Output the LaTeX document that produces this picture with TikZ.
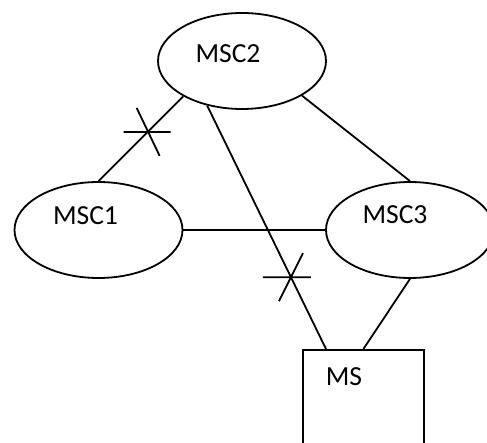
\documentclass[tikz,border=0pt]{standalone}
\usepackage{fontspec}
\setmainfont{Carlito}
\usetikzlibrary{shapes.geometric,positioning}
\begin{document}
\begin{tikzpicture}[x=0.5pt,y=-0.5pt,
	msc node/.style={ellipse,draw,line width=0.9pt,minimum width=84pt,minimum height=48pt,inner sep=0pt},
	ms node/.style={rectangle,draw,line width=0.9pt,minimum width=60.5pt,minimum height=70pt,inner sep=0pt},
	tag/.style={font=\fontsize{13.8}{16}\selectfont,inner sep=0pt},
	link/.style={line width=0.9pt}
]

	\clip (0,0) rectangle (487,443);

	\node[msc node] at (242,61) (msc2) {};
	\node[msc node] at (98.5,230) (msc1) {};
	\node[msc node] at (410,230) (msc3) {};
	\node[ms node,anchor=north west] at (302,349) (ms) {};

	\node[tag] at ([shift={(-14,-7)}]msc2.center) (l2) {MSC2};
	\node[tag] at ([shift={(-13,-14)}]msc1.center) (l1) {MSC1};
	\node[tag] at ([shift={(-15,-15)}]msc3.center) (l3) {MSC3};
	\node[tag] at ([shift={(42,28)}]ms.north west) (lm) {MS};

	\draw[link] (msc2.211) -- coordinate[pos=0.42] (cut1) (msc1.north);
	\draw[link] (msc2.232) -- coordinate[pos=0.705] (cut2) ([shift={(24,0)}]ms.north west);
	\draw[link] (msc2.330) -- (msc3.north);
	\draw[link] (msc1.east) -- (msc3.west);
	\draw[link] (msc3.south) -- (ms.north);

	% cut marks
	\draw[link] ([shift={(-24,0)}]cut1) -- ([shift={(23,0)}]cut1)
		([shift={(-11,-24)}]cut1) -- ([shift={(12,24)}]cut1);
	\draw[link] ([shift={(-28,0)}]cut2) -- ([shift={(20,0)}]cut2)
		([shift={(12,-24)}]cut2) -- ([shift={(-12,24)}]cut2);
\end{tikzpicture}
\end{document}
